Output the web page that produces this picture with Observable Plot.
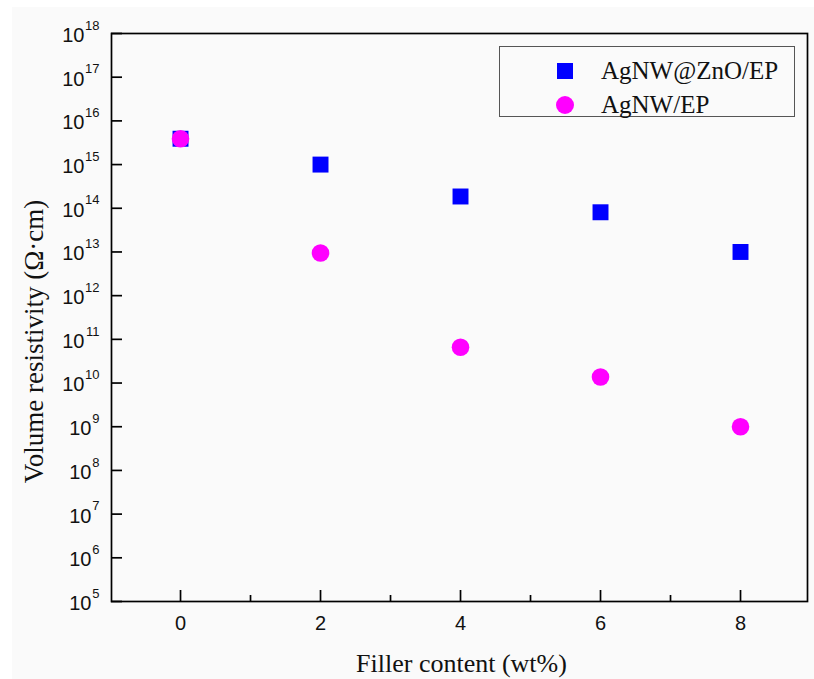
<!DOCTYPE html>
<html>
<head>
<meta charset="utf-8">
<script src="https://cdn.jsdelivr.net/npm/d3@7"></script>
<script src="https://cdn.jsdelivr.net/npm/@observablehq/plot@0.6"></script>
<style>
  html, body { margin: 0; padding: 0; background: #ffffff; }
  #wrap { position: relative; width: 814px; height: 679px; overflow: hidden; }
  #bg { position: absolute; left: 12px; top: 7px; right: 0; bottom: 0; background: #fafafa; }
  #wrap svg { position: absolute; left: 0; top: 0; background: transparent; }
  .legend { position: absolute; left: 499px; top: 46px; width: 296px; height: 71px;
    border: 1px solid #555; box-sizing: border-box; font-family: "Liberation Serif", "Times New Roman", serif;
    font-size: 25px; color: #111; }
  .legend .row { position: absolute; left: 0; height: 30px; line-height: 30px; }
  .legend .sym { position: absolute; }
  .legend .lab { position: absolute; left: 101px; white-space: nowrap; }
</style>
</head>
<body>
<div id="wrap"><div id="bg"></div></div>
<script>
// Data
const fillerContent = [0, 2, 4, 6, 8];
const seriesNames = ["AgNW@ZnO/EP", "AgNW/EP"];
const agnwZnoEp = [3.9e15, 1.0e15, 1.86e14, 8.1e13, 1.0e13];
const agnwEp = [3.9e15, 9.5e12, 6.6e10, 1.37e10, 1.0e9];
const xMajorTicks = [0, 2, 4, 6, 8];
const xMinorTicks = [1, 3, 5, 7];
const yExponents = [5, 6, 7, 8, 9, 10, 11, 12, 13, 14, 15, 16, 17, 18];
const xTitle = "Filler content (wt%)";
const yTitle = "Volume resistivity (Ω·cm)";

const colors = ["#0000ff", "#ff00ff"];
const W = 814, H = 679, mL = 111, mR = 7, mT = 33, mB = 78;
const fw = W - mL - mR, fh = H - mT - mB;

const znoData = fillerContent.map((x, i) => ({x, y: agnwZnoEp[i]}));
const epData = fillerContent.map((x, i) => ({x, y: agnwEp[i]}));
const yTicks = yExponents.map(e => ({v: Math.pow(10, e), e: String(e)}));

const sans = "Liberation Sans, Arial, sans-serif";
const serif = "Liberation Serif, Times New Roman, serif";

const chart = Plot.plot({
  width: W, height: H,
  marginLeft: mL, marginRight: mR, marginTop: mT, marginBottom: mB,
  style: {background: "transparent"},
  x: {domain: [-0.986, 8.957], axis: null},
  y: {type: "log", domain: [1e5, 1e18], axis: null},
  marks: [
    Plot.frame({stroke: "#000", strokeWidth: 1.7}),
    Plot.tickX(xMajorTicks, {x: d => d, insetTop: fh - 11, stroke: "#000", strokeWidth: 1.7}),
    Plot.tickX(xMinorTicks, {x: d => d, insetTop: fh - 6, stroke: "#000", strokeWidth: 1.7}),
    Plot.tickY(yTicks, {y: "v", insetRight: fw - 11, stroke: "#000", strokeWidth: 1.7}),
    Plot.text(xMajorTicks, {x: d => d, text: d => String(d), frameAnchor: "bottom", dy: 22,
      textAnchor: "middle", fontSize: 20, fontFamily: sans, fill: "#111", lineAnchor: "middle"}),
    Plot.text(yTicks.filter(d => d.e.length === 2), {y: "v", text: () => "10", frameAnchor: "left",
      dx: -27, dy: 2, textAnchor: "end", lineAnchor: "middle", fontSize: 20, fontFamily: sans, fill: "#111"}),
    Plot.text(yTicks.filter(d => d.e.length === 1), {y: "v", text: () => "10", frameAnchor: "left",
      dx: -20, dy: 2, textAnchor: "end", lineAnchor: "middle", fontSize: 20, fontFamily: sans, fill: "#111"}),
    Plot.text(yTicks, {y: "v", text: "e", frameAnchor: "left",
      dx: -12, dy: -8, textAnchor: "end", lineAnchor: "middle", fontSize: 13, fontFamily: sans, fill: "#111"}),
    Plot.text([yTitle], {text: d => d, frameAnchor: "left", dx: -77, dy: 24, rotate: -90, textAnchor: "middle",
      fontSize: 27, fontFamily: serif, fill: "#111", lineAnchor: "middle"}),
    Plot.text([xTitle], {text: d => d, frameAnchor: "bottom", dx: 2, dy: 62, textAnchor: "middle",
      fontSize: 26, fontFamily: serif, fill: "#111", lineAnchor: "middle"}),
    Plot.dot(znoData, {x: "x", y: "y", symbol: "square", r: 9, fill: colors[0], stroke: "none"}),
    Plot.dot(epData, {x: "x", y: "y", symbol: "circle", r: 8.8, fill: colors[1], stroke: "none"})
  ]
});

const wrap = document.getElementById("wrap");
wrap.appendChild(chart);

// Legend
const legend = document.createElement("div");
legend.className = "legend";
seriesNames.forEach((name, i) => {
  const row = document.createElement("div");
  row.className = "row";
  row.style.top = (i === 0 ? 9 : 43) + "px";
  row.style.width = "100%";
  const sym = document.createElement("div");
  sym.className = "sym";
  if (i === 0) {
    sym.style.cssText = `left:57px;top:7px;width:16px;height:16px;background:${colors[0]};`;
  } else {
    sym.style.cssText = `left:56px;top:6px;width:18px;height:18px;border-radius:50%;background:${colors[1]};`;
  }
  const lab = document.createElement("div");
  lab.className = "lab";
  lab.textContent = name;
  row.appendChild(sym);
  row.appendChild(lab);
  legend.appendChild(row);
});
wrap.appendChild(legend);
</script>
</body>
</html>
